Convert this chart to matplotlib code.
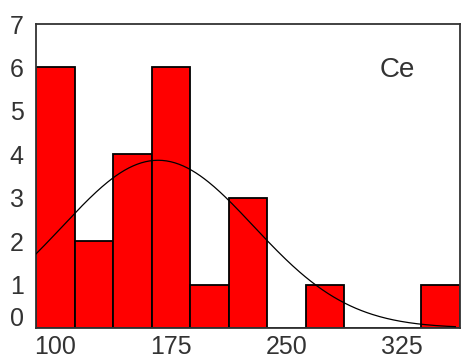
import numpy as np
import matplotlib
matplotlib.use("Agg")
import matplotlib.pyplot as plt
from matplotlib.transforms import ScaledTranslation

# Data
bin_centers = [100, 125, 150, 175, 200, 225, 250, 275, 300, 325, 350]
counts = [6, 2, 4, 6, 1, 3, 0, 1, 0, 0, 1]
bin_width = 25
x_ticks = [100, 175, 250, 325]
y_ticks = [0, 1, 2, 3, 4, 5, 6, 7]
label = "Ce"

plt.rcParams['font.family'] = ['Liberation Sans', 'DejaVu Sans']

fig = plt.figure(figsize=(4.62, 3.61), dpi=100)
ax = fig.add_axes([0.078, 0.0914, 0.9177, 0.8421])

ax.bar(bin_centers, counts, width=bin_width, color='#ff0000',
       edgecolor='black', linewidth=1.3, zorder=2)

# Normal curve fitted to the data
centers = np.array(bin_centers, dtype=float)
n = np.array(counts, dtype=float)
N = n.sum()
mu = (centers * n).sum() / N
sd = np.sqrt(((centers - mu) ** 2 * n).sum() / (N - 1))
xmin = centers[0] - bin_width / 2
xmax = centers[-1] + bin_width / 2
xs = np.linspace(xmin, xmax - 3, 300)
ys = N * bin_width / (sd * np.sqrt(2 * np.pi)) * np.exp(-(xs - mu) ** 2 / (2 * sd ** 2))
ax.plot(xs, ys, color='black', linewidth=0.9, zorder=3)

ax.set_xlim(xmin, xmax)
ax.set_ylim(0, 7)
ax.set_xticks(x_ticks)
ax.set_xticklabels([str(v) for v in x_ticks])
ax.set_yticks(y_ticks)
ax.set_yticklabels([str(v) for v in y_ticks])
ax.tick_params(axis='both', length=0, labelsize=18, colors='#333333')
ax.tick_params(axis='x', pad=5)
ax.tick_params(axis='y', pad=9)

# shift "0" label upward as in the reference
lab0 = ax.get_yticklabels()[0]
lab0.set_transform(lab0.get_transform() + ScaledTranslation(0, 12 / 100, fig.dpi_scale_trans))

for s in ax.spines.values():
    s.set_color('#333333')
    s.set_linewidth(1.3)

ax.text(0.851, 0.849, label, transform=ax.transAxes, fontsize=20,
        ha='center', va='center', color='#333333')

fig.savefig("out.png", dpi=100)
